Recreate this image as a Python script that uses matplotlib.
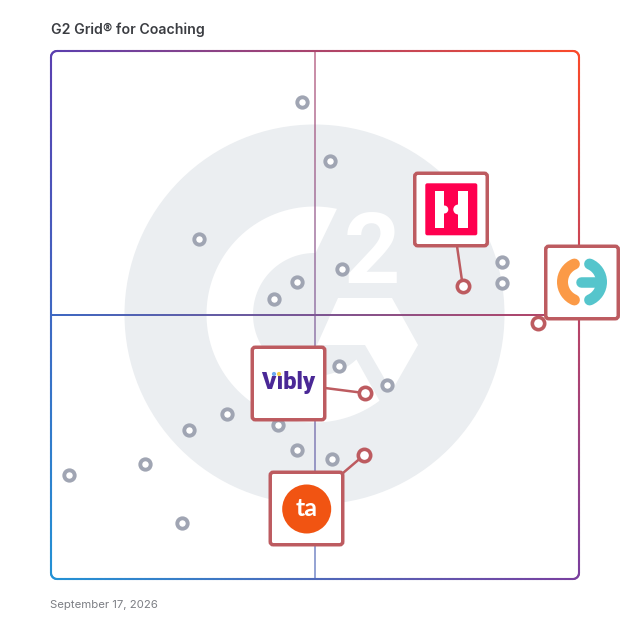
#!/usr/bin/env python3
"""G2 Grid for Coaching, drawn on a canvas measured in image pixels."""

import numpy as np
import matplotlib
matplotlib.use('Agg')
import matplotlib.pyplot as plt
from matplotlib.collections import LineCollection
from matplotlib.colors import to_rgb
from matplotlib.patches import Circle, FancyBboxPatch, PathPatch, Polygon, Rectangle
from matplotlib.path import Path
from matplotlib.transforms import Affine2D

# Scores on the grid, 0-100 on both axes
other_x = [47.5, 52.8, 28.0, 55.2, 46.5, 42.3, 85.5, 85.5, 54.5,
           63.6, 33.4, 43.0, 26.1, 46.5, 53.3, 17.8, 3.4, 24.8]
other_y = [90.3, 79.1, 64.4, 58.7, 56.3, 53.0, 60.0, 56.1, 40.3,
           36.7, 31.3, 29.2, 28.2, 24.4, 22.7, 21.8, 19.7, 10.6]

featured_names = ['Hotjar', 'Coach', 'Vibly', 'ta']
featured_x = [78.0, 92.2, 59.5, 59.2]
featured_y = [55.4, 48.4, 35.2, 23.4]

title_text = 'G2 Grid® for Coaching'
date_text = 'September 17, 2026'

# Layout in pixels
GRID_LEFT, GRID_RIGHT = 51, 579
GRID_TOP, GRID_BOTTOM = 51, 579
BOX_SIZE = 72.5
box_centers = [(451, 209.5), (582, 282.5), (288.5, 383.5), (306.5, 508.5)]
stem_starts = [(457, 246), None, (325, 388), (343, 473)]

# Colours
TOP_LEFT = np.array(to_rgb('#5a3fb0'))
TOP_RIGHT = np.array(to_rgb('#fb4a2a'))
BOTTOM_LEFT = np.array(to_rgb('#2392d5'))
BOTTOM_RIGHT = np.array(to_rgb('#7a3f9f'))
WATERMARK = '#ebeef1'
RED = '#bd5b60'
GREY = '#a0a5b3'


def blend(x, y):
    """Bilinear blend of the four corner colours at pixel (x, y)."""
    u = (x - GRID_LEFT) / (GRID_RIGHT - GRID_LEFT)
    v = (y - GRID_TOP) / (GRID_BOTTOM - GRID_TOP)
    return (TOP_LEFT * (1 - u) + TOP_RIGHT * u) * (1 - v) + (BOTTOM_LEFT * (1 - u) + BOTTOM_RIGHT * u) * v


def gradient_line(ax, points, width_px):
    """Polyline chopped into short segments, each with its own colour."""
    points = np.asarray(points, dtype=float)
    segs, colors = [], []
    for p, q in zip(points[:-1], points[1:]):
        n = max(int(np.hypot(*(q - p)) / 4), 1)
        for i in range(n):
            a = p + (q - p) * i / n
            b = p + (q - p) * (i + 1) / n
            segs.append([a, b])
            colors.append(np.clip(blend(*((a + b) / 2)), 0, 1))
    ax.add_collection(LineCollection(segs, colors=colors, linewidths=width_px * 0.72,
                                     capstyle='round', zorder=3))


def rounded_frame(x0, y0, x1, y1, r):
    a = np.linspace(0, np.pi / 2, 8)
    pts = []
    for cx, cy, start in [(x1 - r, y0 + r, -np.pi / 2), (x1 - r, y1 - r, 0),
                          (x0 + r, y1 - r, np.pi / 2), (x0 + r, y0 + r, np.pi)]:
        pts += list(zip(cx + r * np.cos(start + a), cy + r * np.sin(start + a)))
    return pts + pts[:1]


def cross_bar(ax, x0, x1, y0, y1, alpha=1.0):
    """Straight 2px bar painted as a small gradient image."""
    xs = np.linspace(x0, x1, 128)
    ys = np.linspace(y0, y1, 128)
    if x1 - x0 > y1 - y0:
        colors = np.array([[blend(x, (y0 + y1) / 2) for x in xs]])
    else:
        colors = np.array([[blend((x0 + x1) / 2, y)] for y in ys])
    ax.imshow(np.clip(colors, 0, 1), extent=(x0, x1, y1, y0), origin='upper', aspect='auto',
              alpha=alpha, interpolation='nearest', zorder=3)


def draw_watermark(ax):
    cx, cy = 314.5, 314.5
    ax.add_patch(Circle((cx, cy), 190, fc=WATERMARK, ec='none', zorder=1))

    # the ring of the G
    outer = np.radians(np.linspace(-78, -307, 90))
    inner = np.radians(np.linspace(-313, -89, 90))
    ring = np.vstack([np.c_[cx + 108 * np.cos(outer), cy + 108 * np.sin(outer)],
                      np.c_[cx + 61.5 * np.cos(inner), cy + 61.5 * np.sin(inner)]])
    ax.add_patch(Polygon(ring, closed=True, fc='white', ec='none', zorder=2))

    # chevron
    chevron = [(338, 298), (392, 298), (418, 345), (391.7, 391), (365, 345), (317, 345)]
    ax.add_patch(Polygon(chevron, closed=True, fc='white', ec='none', zorder=2))

    ax.text(372, 283, '2', color='white', fontsize=71, fontweight='bold',
            family='Roboto', ha='center', va='baseline', zorder=2)


def draw_hotjar_logo(ax, z):
    ax.add_patch(FancyBboxPatch((425.3, 183.3), 52, 52,
                                boxstyle='round,pad=0,rounding_size=2',
                                fc='#ff004f', ec='none', zorder=z))
    ax.add_patch(Rectangle((435, 190.7), 9.3, 37.6, fc='white', ec='none', zorder=z + 1))
    ax.add_patch(Rectangle((458.3, 190.7), 9.4, 37.6, fc='white', ec='none', zorder=z + 1))
    ax.add_patch(Circle((444.3, 209.5), 4, fc='white', ec='none', zorder=z + 1))
    ax.add_patch(Circle((458.3, 209.5), 5, fc='white', ec='none', zorder=z + 1))


def draw_arrow_logo(ax, z):
    lw = 11 * 0.72
    arc = Affine2D().scale(19.5).translate(582, 282)
    orange = Path.arc(113, 247).transformed(arc)
    teal = Path.arc(-67, 67).transformed(arc)
    ax.add_patch(PathPatch(orange, fc='none', ec='#fb9a47', lw=lw, capstyle='round', zorder=z))
    ax.add_patch(PathPatch(teal, fc='none', ec='#55c5cc', lw=lw, capstyle='round', zorder=z))
    ax.plot([580.5, 600], [282, 282], color='#55c5cc', lw=10.5 * 0.72,
            solid_capstyle='round', zorder=z)


def draw_vibly_logo(ax, z):
    ax.text(288, 389.5, 'Vibly', color='#4a2896', fontsize=17, fontweight='black',
            family='Roboto', ha='center', va='baseline', zorder=z)
    ax.add_patch(Rectangle((270, 369), 12, 7, fc='white', ec='none', zorder=z + 1))
    ax.add_patch(Circle((274, 374), 2.1, fc='#6ea8f0', ec='none', zorder=z + 2))
    ax.add_patch(Circle((279, 374), 2.1, fc='#f5cf50', ec='none', zorder=z + 2))


def draw_ta_logo(ax, z):
    ax.add_patch(Circle((306.7, 509), 24.5, fc='#f15412', ec='none', zorder=z))
    ax.text(306.7, 516.5, 'ta', color='white', fontsize=18, fontweight='bold',
            family='Lato', ha='center', va='baseline', zorder=z + 1)


fig = plt.figure(figsize=(6.28, 6.28), dpi=100, facecolor='white')
ax = fig.add_axes([0, 0, 1, 1])

draw_watermark(ax)

# frame and cross bars share one corner gradient, the vertical bar is paler
gradient_line(ax, rounded_frame(GRID_LEFT, GRID_TOP, GRID_RIGHT, GRID_BOTTOM, 6), 2.1)
cross_bar(ax, GRID_LEFT, GRID_RIGHT, 314, 316)
cross_bar(ax, 314, 316, GRID_TOP, GRID_BOTTOM, alpha=0.6)

# grid scores to canvas pixels
score_to_px = Affine2D().scale((GRID_RIGHT - GRID_LEFT) / 100, -(GRID_BOTTOM - GRID_TOP) / 100) \
    .translate(GRID_LEFT, GRID_BOTTOM)
score_tf = score_to_px + ax.transData

ax.scatter(other_x, other_y, s=56, facecolor='white', edgecolor=GREY, linewidth=2.8,
           transform=score_tf, zorder=4, clip_on=False)

for start, x, y in zip(stem_starts, featured_x, featured_y):
    if start is None:
        continue
    end = score_to_px.transform((x, y))
    ax.plot([start[0], end[0]], [start[1], end[1]], color=RED, lw=1.8, zorder=5)

for cx, cy in box_centers:
    ax.add_patch(FancyBboxPatch((cx - BOX_SIZE / 2, cy - BOX_SIZE / 2), BOX_SIZE, BOX_SIZE,
                                boxstyle='round,pad=0,rounding_size=3',
                                fc='white', ec=RED, lw=2.5, zorder=6))

draw_hotjar_logo(ax, 7)
draw_arrow_logo(ax, 7)
draw_vibly_logo(ax, 7)
draw_ta_logo(ax, 7)

ax.scatter(featured_x, featured_y, s=79, facecolor='white', edgecolor=RED, linewidth=2.6,
           transform=score_tf, zorder=10, clip_on=False)

ax.text(51, 34, title_text, color='#3b3d42', fontsize=10.2, fontweight='semibold',
        family='Inter', ha='left', va='baseline')
ax.text(50, 608, date_text, color='#7c7e84', fontsize=8.2,
        family='Inter', ha='left', va='baseline')

ax.set_xlim(0, 628)
ax.set_ylim(628, 0)
ax.axis('off')

plt.savefig('out.png', dpi=100)
